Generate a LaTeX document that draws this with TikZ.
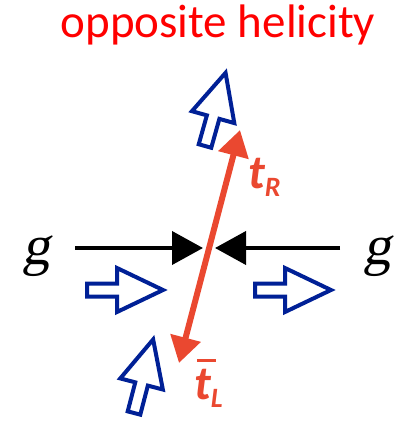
\documentclass[tikz,border=0pt]{standalone}
\usepackage{fontspec}
\setmainfont{Liberation Serif}
\newfontfamily\titlefont{Carlito}
\newfontfamily\gfont[FakeSlant=0.18]{Liberation Serif}
\usetikzlibrary{arrows.meta}
\definecolor{titlered}{RGB}{255,0,0}
\definecolor{topred}{RGB}{234,72,48}
\definecolor{helblue}{RGB}{0,32,150}
\tikzset{
  redarrow/.style={draw=topred, line width=6pt, {Triangle[length=26pt,width=30pt]}-{Triangle[length=26pt,width=30pt]}},
  gluon/.style={draw=black, line width=4pt, -{Triangle[length=31pt,width=33pt]}},
  glabel/.style={font=\gfont\fontsize{56}{56}\selectfont, inner sep=0pt, anchor=base},
  tlabel/.style={text=topred, inner sep=0pt, anchor=base west, font=\titlefont\bfseries\itshape},
  barline/.style={draw=topred, line width=3pt},
  hollow/.pic={\draw[helblue, line width=4pt, line join=miter]
     (0,-6.5) -- (30,-6.5) -- (30,-22) -- (76,0) -- (30,22) -- (30,6.5) -- (0,6.5) -- cycle;}
}
\begin{document}
\begin{tikzpicture}[x=1pt,y=-1pt]
\useasboundingbox (0,0) rectangle (399,424);
\node[text=titlered, font=\titlefont\fontsize{47}{47}\selectfont, anchor=base, inner sep=0pt] (title) at (218,37) {opposite helicity};
% red top-quark line
\coordinate (rt) at (240,130);
\coordinate (rb) at (179,363);
\draw[redarrow] (rb) -- (rt);
% gluons
\node[glabel] (gL) at (37,264) {g};
\node[glabel] (gR) at (377,264) {g};
\coordinate (gls) at (75,248);
\coordinate (gle) at (203,248);
\coordinate (grs) at (340,248);
\coordinate (gre) at (215,248);
\draw[gluon] (gls) -- (gle);
\draw[gluon] (grs) -- (gre);
% helicity arrows
\pic at (87,290) {hollow};
\pic at (255,290) {hollow};
\pic[rotate=74.3] at (205,146) {hollow};
\pic[rotate=75.4] at (134,413) {hollow};
% labels
\node[tlabel] (tR) at (248,188) {\fontsize{48}{48}\selectfont t\raisebox{-8pt}{\fontsize{28}{28}\selectfont R}};
\node[tlabel] (tL) at (194,399) {\fontsize{48}{48}\selectfont t\raisebox{-8pt}{\fontsize{28}{28}\selectfont L}};
\coordinate (barL) at (197,360);
\coordinate (barR) at (216,360);
\draw[barline] (barL) -- (barR);
\end{tikzpicture}
\end{document}
